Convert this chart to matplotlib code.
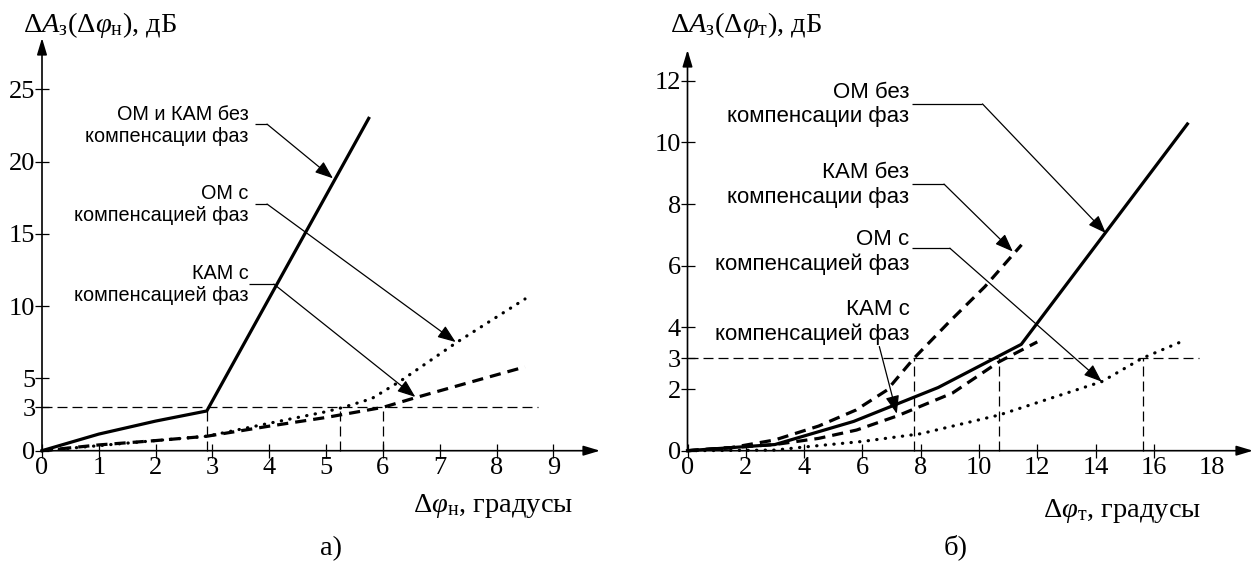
import matplotlib
matplotlib.use('Agg')
import matplotlib.pyplot as plt

plt.rcParams['mathtext.fontset'] = 'custom'
plt.rcParams['mathtext.rm'] = 'Liberation Serif'
plt.rcParams['mathtext.it'] = 'Liberation Serif:italic'
plt.rcParams['mathtext.fallback'] = 'stix'
SERIF = 'Liberation Serif'
SANS = 'Liberation Sans'

# ---------------- data: panel a) ----------------
a_solid_x = [0, 1, 2, 2.9, 5.75]
a_solid_y = [0, 1.15, 2.05, 2.75, 23.0]
a_dot_x = [0, 1, 2, 2.9, 4, 5, 5.3, 5.8, 6.3, 7.3, 8.5]
a_dot_y = [0, 0.35, 0.7, 1.0, 1.9, 2.7, 3.0, 3.6, 4.8, 7.5, 10.5]
a_dash_x = [0, 1, 2, 2.9, 4, 5, 6, 6.6, 7.5, 8.5]
a_dash_y = [0, 0.4, 0.7, 1.0, 1.7, 2.3, 3.0, 3.7, 4.7, 5.8]
a_vref_x = [2.9, 5.25, 6.0]
a_vref_top = [2.75, 3.0, 3.0]
a_href_y = 3
a_href_end = 8.73
a_xticks = [0, 1, 2, 3, 4, 5, 6, 7, 8, 9]
a_yticks = [0, 3, 5, 10, 15, 20, 25]

# ---------------- data: panel б) ----------------
b_solid_x = [0, 3, 5.7, 8.6, 11.45, 17.15]
b_solid_y = [0, 0.2, 0.95, 2.05, 3.45, 10.6]
b_dashu_x = [0, 1.5, 3, 4.5, 5.78, 6.85, 7.77, 9.0, 10.2, 11.46]
b_dashu_y = [0, 0.1, 0.35, 0.8, 1.32, 1.97, 3.0, 4.2, 5.32, 6.68]
b_dashl_x = [0, 3, 4.5, 5.8, 7.2, 9.09, 10.68, 12.0]
b_dashl_y = [0, 0.2, 0.4, 0.67, 1.13, 1.87, 2.88, 3.53]
b_dot_x = [0, 3, 4, 6, 8, 10.7, 14.21, 15.6, 17.05]
b_dot_y = [0, 0.02, 0.12, 0.3, 0.55, 1.16, 2.24, 3.0, 3.58]
b_vref_x = [7.77, 10.7, 15.63]
b_href_y = 3
b_href_end = 17.55
b_xticks = [0, 2, 4, 6, 8, 10, 12, 14, 16, 18]
b_yticks = [0, 2, 3, 4, 6, 8, 10, 12]

W, H = 1255, 562
fig = plt.figure(figsize=(W / 100, H / 100), dpi=100)

TICK_FS = 19
LAB_FS = 20.5


def axes_px(l, r, t, b):
    return fig.add_axes([l / W, (H - b) / H, (r - l) / W, (b - t) / H])


def style_axes(ax, xmax, ymax, xt, yt):
    ax.set_xlim(0, xmax)
    ax.set_ylim(0, ymax)
    for s in ['top', 'right', 'left', 'bottom']:
        ax.spines[s].set_visible(False)
    ax.patch.set_alpha(0)
    for end in [(1, 0), (0, 1)]:
        ax.annotate('', xy=end, xytext=(0, 0), xycoords='axes fraction',
                    arrowprops=dict(arrowstyle='-|>,head_length=1.0,head_width=0.3',
                                    lw=1.2, color='k', shrinkA=0, shrinkB=0,
                                    mutation_scale=10), annotation_clip=False)
    ax.set_xticks(xt)
    ax.set_yticks(yt)
    ax.tick_params(axis='both', direction='inout', length=9.5, width=0.9,
                   labelsize=TICK_FS, pad=0)
    for lab in ax.get_xticklabels() + ax.get_yticklabels():
        lab.set_family(SERIF)


def leader(ax, pts, tip):
    xs = [p[0] for p in pts]
    ys = [p[1] for p in pts]
    ax.plot(xs, ys, color='k', lw=0.9, solid_capstyle='butt', clip_on=False)
    ax.annotate('', xy=tip, xytext=pts[-1],
                arrowprops=dict(arrowstyle='-|>,head_length=1.1,head_width=0.42',
                                lw=0.9, color='k', shrinkA=0, shrinkB=0,
                                mutation_scale=10), annotation_clip=False)


curve_kw = dict(color='k', clip_on=False)
ref_kw = dict(color='k', lw=0.9, dashes=(8, 4), clip_on=False)


def hline(ax, y, x1):
    ax.plot([0, x1], [y, y], **ref_kw)


def vline(ax, x, y1):
    ax.plot([x, x], [0, y1], **ref_kw)


# ---------------- panel a ----------------
ax1 = axes_px(42, 600, 38, 450.7)
style_axes(ax1, 9.82, 28.56, a_xticks, a_yticks)
hline(ax1, a_href_y, a_href_end)
for x, t in zip(a_vref_x, a_vref_top):
    vline(ax1, x, t)
ax1.plot(a_dash_x, a_dash_y, lw=2.3, dashes=(3.5, 2.2), **curve_kw)
ax1.plot(a_dot_x, a_dot_y, lw=2.3, dashes=(0.1, 2.6), dash_capstyle='round', **curve_kw)
ax1.plot(a_solid_x, a_solid_y, lw=2.3, **curve_kw)

ta = dict(ha='right', va='center', fontsize=14.3, family=SANS, linespacing=1.2)
ax1.text(3.63, 22.5, 'ОМ и КАМ без\nкомпенсации фаз', **ta)
leader(ax1, [(3.74, 22.6), (3.96, 22.6)], (5.12, 18.85))
ax1.text(3.63, 17.07, 'ОМ с\nкомпенсацией фаз', **ta)
leader(ax1, [(3.74, 17.07), (3.96, 17.07)], (7.28, 7.52))
ax1.text(3.63, 11.5, 'КАМ с\nкомпенсацией фаз', **ta)
leader(ax1, [(3.64, 11.53), (4.08, 11.53)], (6.57, 3.72))

# ---------------- panel б ----------------
ax2 = axes_px(687.5, 1253, 50, 450.7)
style_axes(ax2, 19.4, 13.0, b_xticks, b_yticks)
ax2.xaxis.get_major_ticks()[-1].tick1line.set_visible(False)
hline(ax2, b_href_y, b_href_end)
for x in b_vref_x:
    vline(ax2, x, b_href_y)
ax2.plot(b_dashu_x, b_dashu_y, lw=2.3, dashes=(3.5, 2.2), **curve_kw)
ax2.plot(b_dashl_x, b_dashl_y, lw=2.3, dashes=(3.5, 2.2), **curve_kw)
ax2.plot(b_dot_x, b_dot_y, lw=2.3, dashes=(0.1, 2.6), dash_capstyle='round', **curve_kw)
ax2.plot(b_solid_x, b_solid_y, lw=2.3, **curve_kw)

tb = dict(ha='right', va='center', fontsize=16, family=SANS, linespacing=1.2)
ax2.text(7.62, 11.22, 'ОМ без\nкомпенсации фаз', **tb)
leader(ax2, [(7.69, 11.25), (10.12, 11.25)], (14.35, 7.06))
ax2.text(7.62, 8.62, 'КАМ без\nкомпенсации фаз', **tb)
leader(ax2, [(7.69, 8.65), (8.8, 8.65)], (11.16, 6.46))
ax2.text(7.62, 6.44, 'ОМ с\nкомпенсацией фаз', **tb)
leader(ax2, [(7.69, 6.57), (9.0, 6.57)], (14.21, 2.24))
ax2.text(7.62, 4.18, 'КАМ с\nкомпенсацией фаз', **tb)
leader(ax2, [(6.58, 3.38)], (7.18, 1.2))

# ---------------- titles / labels ----------------
def ftext(x, y, s, **kw):
    fig.text(x / W, 1 - y / H, s, **kw)

lab = dict(fontsize=LAB_FS, family=SERIF, va='baseline')
ftext(23, 32, r'$\Delta A_{\mathrm{з}}(\Delta\varphi_{\mathrm{н}})$, дБ', ha='left', **lab)
ftext(670, 32, r'$\Delta A_{\mathrm{з}}(\Delta\varphi_{\mathrm{т}})$, дБ', ha='left', **lab)
ftext(413, 512, r'$\Delta\varphi_{\mathrm{н}}$, градусы', ha='left', **lab)
ftext(1043, 517, r'$\Delta\varphi_{\mathrm{т}}$, градусы', ha='left', **lab)
ftext(331, 555, 'а)', ha='center', **lab)
ftext(956, 554, 'б)', ha='center', **lab)

fig.savefig('out.png', dpi=100)
